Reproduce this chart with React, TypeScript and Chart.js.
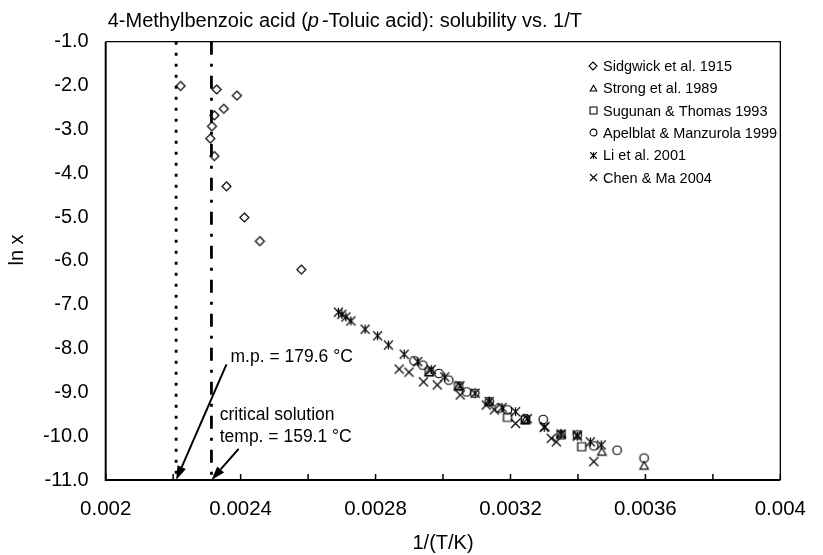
import { useEffect, useRef } from 'react';
import { Chart, registerables } from 'chart.js';

Chart.register(...registerables);

const FONT = '"Liberation Sans", Arial, Helvetica, sans-serif';

// ---------- data: x = 1/(T/K), y = ln x ----------
const sidgwickInvT = [0.002222, 0.002329, 0.002389, 0.00235, 0.002322, 0.002315, 0.00231, 0.002322, 0.002358, 0.002411, 0.002457, 0.00258];
const sidgwickLnX = [-2.01, -2.09, -2.23, -2.53, -2.68, -2.93, -3.21, -3.61, -4.3, -5.01, -5.55, -6.2];

const strongInvT = [0.002959, 0.003046, 0.003137, 0.003244, 0.00335, 0.003471, 0.003596];
const strongLnX = [-8.55, -8.87, -9.22, -9.64, -9.95, -10.36, -10.68];

const sugunanInvT = [0.002959, 0.003046, 0.003191, 0.003244, 0.00335, 0.003411];
const sugunanLnX = [-8.53, -8.86, -9.57, -9.63, -9.97, -10.24];

const apelblatInvT = [0.002914, 0.00294, 0.002988, 0.003017, 0.00307, 0.003094, 0.003137, 0.003166, 0.003191, 0.003244, 0.003297, 0.003398, 0.003447, 0.003516, 0.003596];
const apelblatLnX = [-8.28, -8.38, -8.57, -8.72, -8.99, -9.02, -9.21, -9.36, -9.4, -9.6, -9.62, -9.97, -10.22, -10.32, -10.5];

const liInvT = [0.00269, 0.0027, 0.002712, 0.002727, 0.002769, 0.002806, 0.002838, 0.002885, 0.002925, 0.002965, 0.003005, 0.00305, 0.003095, 0.003137, 0.003175, 0.003215, 0.00325, 0.0033, 0.00335, 0.003398, 0.003437, 0.003469];
const liLnX = [-7.17, -7.22, -7.28, -7.37, -7.56, -7.71, -7.92, -8.13, -8.3, -8.48, -8.65, -8.85, -9.02, -9.21, -9.35, -9.44, -9.6, -9.8, -9.95, -10.0, -10.13, -10.2];

const chenInvT = [0.00287, 0.002899, 0.002942, 0.002983, 0.003051, 0.003128, 0.003152, 0.003215, 0.003302, 0.003321, 0.003336, 0.003398, 0.003447];
const chenLnX = [-8.47, -8.54, -8.76, -8.83, -9.06, -9.29, -9.4, -9.71, -9.78, -10.05, -10.13, -9.97, -10.58];

const seriesLabels = ['Sidgwick et al. 1915', 'Strong et al. 1989', 'Sugunan & Thomas 1993', 'Apelblat & Manzurola 1999', 'Li et al. 2001', 'Chen & Ma 2004'];
const seriesMarkers = ['diamond', 'triangle', 'square', 'circle', 'star', 'x'];

const meltingPointC = 179.6;
const criticalTempC = 159.1;
const yRange = [-1, -11];

const xTickValues = [0.002, 0.0022, 0.0024, 0.0026, 0.0028, 0.003, 0.0032, 0.0034, 0.0036, 0.0038, 0.004];
const xTickLabels = ['0.002', '', '0.0024', '', '0.0028', '', '0.0032', '', '0.0036', '', '0.004'];
const yTickValues = [-11, -10, -9, -8, -7, -6, -5, -4, -3, -2, -1];

const titleParts = ['4-Methylbenzoic acid (', 'p', '-Toluic acid): solubility vs. 1/T'];
const xAxisTitle = '1/(T/K)';
const yAxisTitle = 'ln x';
const mpText = 'm.p. = 179.6 °C';
const critText = ['critical solution', 'temp. = 159.1 °C'];

// ---------- helpers ----------
const zip = (xs: number[], ys: number[]) => xs.map((x, i) => ({ x, y: ys[i] }));

function makeMarker(kind: string, size: number, lw: number): HTMLCanvasElement {
  const S = Math.ceil(size + 4);
  const c = document.createElement('canvas');
  c.width = S;
  c.height = S;
  const ctx = c.getContext('2d')!;
  ctx.strokeStyle = '#000';
  ctx.lineWidth = lw;
  const m = S / 2;
  const h = size / 2;
  ctx.beginPath();
  switch (kind) {
    case 'diamond':
      ctx.moveTo(m, m - h);
      ctx.lineTo(m + h, m);
      ctx.lineTo(m, m + h);
      ctx.lineTo(m - h, m);
      ctx.closePath();
      break;
    case 'triangle':
      ctx.moveTo(m, m - h);
      ctx.lineTo(m + h, m + h * 0.75);
      ctx.lineTo(m - h, m + h * 0.75);
      ctx.closePath();
      break;
    case 'square':
      ctx.rect(m - h, m - h, size, size);
      break;
    case 'circle':
      ctx.arc(m, m, h, 0, Math.PI * 2);
      break;
    case 'star':
      ctx.moveTo(m - h, m - h);
      ctx.lineTo(m + h, m + h);
      ctx.moveTo(m + h, m - h);
      ctx.lineTo(m - h, m + h);
      ctx.moveTo(m, m - h);
      ctx.lineTo(m, m + h);
      break;
    case 'x':
      ctx.moveTo(m - h, m - h);
      ctx.lineTo(m + h, m + h);
      ctx.moveTo(m + h, m - h);
      ctx.lineTo(m - h, m + h);
      break;
  }
  ctx.stroke();
  return c;
}

const markerSizes: Record<string, number> = { diamond: 9, triangle: 8.5, square: 8, circle: 8.5, star: 9, x: 9 };
const legendSizes: Record<string, number> = { diamond: 8, triangle: 6.5, square: 7, circle: 6.8, star: 6.5, x: 7 };

function drawArrow(ctx: CanvasRenderingContext2D, x1: number, y1: number, x2: number, y2: number) {
  const ang = Math.atan2(y2 - y1, x2 - x1);
  const L = 14;
  const W = 4.5;
  const bx = x2 - L * Math.cos(ang);
  const by = y2 - L * Math.sin(ang);
  ctx.beginPath();
  ctx.moveTo(x1, y1);
  ctx.lineTo(bx, by);
  ctx.lineWidth = 2;
  ctx.strokeStyle = '#000';
  ctx.stroke();
  ctx.beginPath();
  ctx.moveTo(x2, y2);
  ctx.lineTo(bx + W * Math.sin(ang), by - W * Math.cos(ang));
  ctx.lineTo(bx - W * Math.sin(ang), by + W * Math.cos(ang));
  ctx.closePath();
  ctx.fillStyle = '#000';
  ctx.fill();
}

export default function App() {
  const ref = useRef<HTMLCanvasElement | null>(null);

  useEffect(() => {
    document.body.style.margin = '0';
    const canvas = ref.current;
    if (!canvas) return;

    const pointMarkers = seriesMarkers.map((k) => makeMarker(k, markerSizes[k], 1.2));
    const legendMarkers = seriesMarkers.map((k) => makeMarker(k, legendSizes[k], 1.1));

    const mpInvT = 1 / (meltingPointC + 273.15);
    const critInvT = 1 / (criticalTempC + 273.15);

    const seriesData = [
      zip(sidgwickInvT, sidgwickLnX),
      zip(strongInvT, strongLnX),
      zip(sugunanInvT, sugunanLnX),
      zip(apelblatInvT, apelblatLnX),
      zip(liInvT, liLnX),
      zip(chenInvT, chenLnX),
    ];

    const pointSets = seriesData.map((d, i) => ({
      label: seriesLabels[i],
      data: d,
      pointStyle: pointMarkers[i],
      pointRadius: 5,
      showLine: false,
    }));

    const lineSets = [
      {
        label: 'm.p.',
        data: [{ x: mpInvT, y: yRange[0] }, { x: mpInvT, y: yRange[1] }],
        showLine: true,
        borderColor: '#000',
        borderWidth: 2.8,
        borderDash: [3, 8],
        pointRadius: 0,
      },
      {
        label: 'critical',
        data: [{ x: critInvT, y: yRange[0] }, { x: critInvT, y: yRange[1] }],
        showLine: true,
        borderColor: '#000',
        borderWidth: 2.8,
        borderDash: [13, 9, 3, 9],
        pointRadius: 0,
      },
    ];

    const decor = {
      id: 'decor',
      beforeDatasetsDraw(chart: any) {
        const { ctx, chartArea: a } = chart;
        const xs = chart.scales.x;
        ctx.save();
        ctx.strokeStyle = '#000';
        ctx.lineWidth = 1.3;
        ctx.beginPath();
        ctx.moveTo(a.left, a.top);
        ctx.lineTo(a.right, a.top);
        ctx.lineTo(a.right, a.bottom);
        ctx.stroke();
        ctx.lineWidth = 2;
        ctx.beginPath();
        ctx.moveTo(a.left, a.top);
        ctx.lineTo(a.left, a.bottom);
        ctx.lineTo(a.right, a.bottom);
        ctx.stroke();
        ctx.lineWidth = 1.5;
        xTickValues.forEach((v) => {
          const px = xs.getPixelForValue(v);
          ctx.beginPath();
          ctx.moveTo(px, a.bottom);
          ctx.lineTo(px, a.bottom - 6);
          ctx.stroke();
        });
        ctx.restore();
      },
      afterDraw(chart: any) {
        const { ctx, chartArea: a } = chart;
        const xs = chart.scales.x;
        const ys = chart.scales.y;
        ctx.save();
        ctx.fillStyle = '#000';
        // title
        const tfs = 20;
        ctx.textBaseline = 'alphabetic';
        ctx.textAlign = 'left';
        let tx = a.left + 2;
        const ty = 27;
        ctx.font = `${tfs}px ${FONT}`;
        ctx.fillText(titleParts[0], tx, ty);
        tx += ctx.measureText(titleParts[0]).width;
        ctx.font = `italic ${tfs}px ${FONT}`;
        ctx.fillText(titleParts[1], tx, ty);
        tx += ctx.measureText(titleParts[1]).width + 3;
        ctx.font = `${tfs}px ${FONT}`;
        ctx.fillText(titleParts[2], tx, ty);

        // axis titles
        ctx.font = `20px ${FONT}`;
        ctx.textAlign = 'center';
        ctx.textBaseline = 'middle';
        ctx.fillText(xAxisTitle, (a.left + a.right) / 2, 543);
        ctx.save();
        ctx.translate(17, 250);
        ctx.rotate(-Math.PI / 2);
        ctx.fillText(yAxisTitle, 0, 0);
        ctx.restore();

        // annotations
        ctx.font = `17.5px ${FONT}`;
        ctx.textAlign = 'left';
        ctx.textBaseline = 'alphabetic';
        ctx.fillText(mpText, xs.getPixelForValue(0.00237), ys.getPixelForValue(-8.3));
        ctx.fillText(critText[0], xs.getPixelForValue(0.002338), ys.getPixelForValue(-9.62));
        ctx.fillText(critText[1], xs.getPixelForValue(0.002338), ys.getPixelForValue(-10.13));

        const mpInv = 1 / (meltingPointC + 273.15);
        const crInv = 1 / (criticalTempC + 273.15);
        drawArrow(ctx, xs.getPixelForValue(0.002358), ys.getPixelForValue(-8.36), xs.getPixelForValue(mpInv), ys.getPixelForValue(-11));
        drawArrow(ctx, xs.getPixelForValue(0.002394), ys.getPixelForValue(-10.29), xs.getPixelForValue(crInv), ys.getPixelForValue(-11));

        // legend
        ctx.font = `14.5px ${FONT}`;
        ctx.textBaseline = 'middle';
        const lx = 593;
        let ly = 66;
        seriesLabels.forEach((lab, i) => {
          const m = legendMarkers[i];
          ctx.drawImage(m, Math.round(lx - m.width / 2), Math.round(ly - m.height / 2));
          ctx.fillText(lab, lx + 10, ly + 1);
          ly += 22.3;
        });
        ctx.restore();
      },
    };

    const chart = new Chart(canvas, {
      type: 'scatter',
      data: { datasets: [...lineSets, ...pointSets] as any },
      options: {
        responsive: false,
        animation: false,
        events: [],
        layout: { padding: { left: 0, right: 27, top: 41.7, bottom: 0 } },
        plugins: {
          legend: { display: false },
          title: { display: false },
          tooltip: { enabled: false },
        },
        scales: {
          x: {
            type: 'linear',
            min: 0.002,
            max: 0.004,
            afterBuildTicks: (s: any) => {
              s.ticks = xTickValues.map((v) => ({ value: v }));
            },
            afterFit: (s: any) => {
              s.height = 75;
            },
            ticks: {
              autoSkip: false,
              maxRotation: 0,
              padding: 17,
              color: '#000',
              font: { family: FONT, size: 20.5 },
              callback: (_v: any, i: number) => xTickLabels[i],
            },
            grid: { display: false, drawTicks: false },
            border: { display: false },
          },
          y: {
            type: 'linear',
            min: -11,
            max: -1,
            afterBuildTicks: (s: any) => {
              s.ticks = yTickValues.map((v) => ({ value: v }));
            },
            afterFit: (s: any) => {
              s.width = 105.7;
            },
            ticks: {
              padding: 17,
              color: '#000',
              font: { family: FONT, size: 20 },
              callback: (v: any) => Number(v).toFixed(1),
            },
            grid: { display: false, drawTicks: false },
            border: { display: false },
          },
        },
      },
      plugins: [decor],
    });

    return () => chart.destroy();
  }, []);

  return (
    <div style={{ width: 823, height: 555, background: '#fff' }}>
      <canvas ref={ref} width={823} height={555} style={{ display: 'block' }} />
    </div>
  );
}
